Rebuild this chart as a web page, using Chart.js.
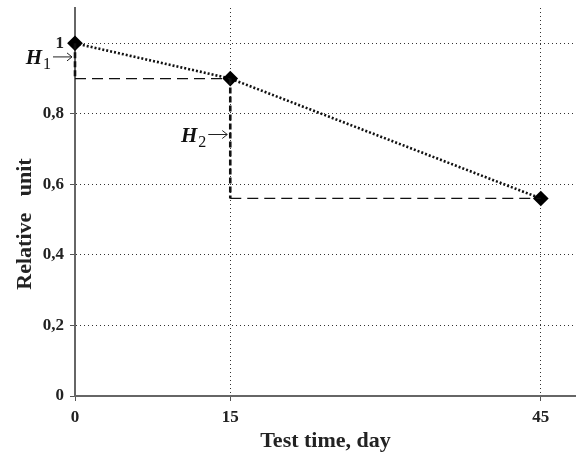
<!DOCTYPE html>
<html>
<head>
<meta charset="utf-8">
<script src="https://cdn.jsdelivr.net/npm/chart.js@4"></script>
<style>
  html, body { margin: 0; padding: 0; background: #fff; overflow: hidden; }
  canvas { display: block; }
</style>
</head>
<body>
<canvas id="graph1" width="576" height="459"></canvas>
<script>
// test time (days) and relative unit values
const days = [0, 15, 45];
const relative = [1, 0.9, 0.56];
const xTicks = [0, 15, 45];
const yTicks = [0, 0.2, 0.4, 0.6, 0.8, 1];
const stepLabels = ["1", "2"];

const serif = "'Liberation Serif', 'Times New Roman', serif";

const mainPoints = days.map((d, i) => ({ x: d, y: relative[i] }));

// guides: drop from each point, then run across to the next x
const hGuides = [];
const vGuides = [];
for (let i = 0; i < days.length - 1; i++) {
  hGuides.push([{ x: days[i], y: relative[i + 1] }, { x: days[i + 1], y: relative[i + 1] }]);
  vGuides.push([{ x: days[i], y: relative[i] }, { x: days[i], y: relative[i + 1] }]);
}

const datasets = [];
hGuides.forEach(seg => datasets.push({
  data: seg, showLine: true, borderColor: "#111", borderWidth: 1.3,
  borderDash: [11, 6], pointRadius: 0, clip: false
}));
vGuides.forEach(seg => datasets.push({
  data: seg, showLine: true, borderColor: "#111", borderWidth: 2.6,
  borderDash: [6, 3], pointRadius: 0, clip: false
}));
datasets.push({
  data: mainPoints, showLine: true, borderColor: "#111", borderWidth: 2.6,
  borderDash: [2, 2], pointStyle: "rectRot", pointRadius: 6,
  pointBackgroundColor: "#000", pointBorderColor: "#000", clip: false
});

const stepLabelPlugin = {
  id: "stepLabels",
  afterDatasetsDraw(chart) {
    const ctx = chart.ctx;
    const xs = chart.scales.x, ys = chart.scales.y;
    ctx.save();
    ctx.fillStyle = "#111";
    ctx.strokeStyle = "#222";
    ctx.textBaseline = "middle";
    vGuides.forEach((seg, i) => {
      const px = xs.getPixelForValue(seg[0].x);
      const py = ys.getPixelForValue((seg[0].y + seg[1].y) / 2) - 4;
      // arrow
      const tip = px - 3, tail = tip - 19;
      ctx.lineWidth = 1;
      ctx.beginPath();
      ctx.moveTo(tail, py); ctx.lineTo(tip, py);
      ctx.moveTo(tip - 5, py - 4); ctx.lineTo(tip, py); ctx.lineTo(tip - 5, py + 4);
      ctx.stroke();
      // H with subscript
      ctx.font = "16px " + serif;
      const sw = ctx.measureText(stepLabels[i]).width;
      const sx = tail - 2 - sw;
      ctx.fillText(stepLabels[i], sx, py + 8);
      ctx.font = "italic bold 21px " + serif;
      const hw = ctx.measureText("H").width;
      ctx.fillText("H", sx - hw - 1, py + 2);
    });
    ctx.restore();
  }
};

new Chart("graph1", {
  type: "scatter",
  data: { datasets },
  options: {
    responsive: false,
    animation: false,
    layout: { autoPadding: false, padding: { top: 8, right: 0, left: 0, bottom: 0 } },
    plugins: { legend: { display: false }, tooltip: { enabled: false } },
    scales: {
      x: {
        type: "linear", min: 0, max: 48.4,
        afterBuildTicks: s => { s.ticks = xTicks.map(v => ({ value: v })); },
        afterFit: s => { s.height = 63; s.paddingLeft = 0; s.paddingRight = 0; },
        grid: { color: "#333", lineWidth: 1, tickLength: 5, tickColor: "#555" },
        border: { color: "#666", width: 2, dash: [1, 3] },
        ticks: { color: "#222", padding: 6, font: { family: serif, size: 17, weight: "bold" } },
        title: { display: true, text: "Test time, day", color: "#222", padding: { top: 2 },
                 font: { family: serif, size: 22, weight: "bold" } }
      },
      y: {
        min: 0, max: 1.1,
        afterBuildTicks: s => { s.ticks = yTicks.map(v => ({ value: v })); },
        afterFit: s => { s.width = 75; s.paddingTop = 0; s.paddingBottom = 0; },
        grid: { color: "#333", lineWidth: 1, tickLength: 5, tickColor: "#555" },
        border: { color: "#666", width: 2, dash: [1, 3] },
        ticks: { color: "#222", padding: 6, font: { family: serif, size: 17, weight: "bold" },
                 callback: v => String(v).replace(".", ",") },
        title: { display: true, text: "Relative   unit        ", color: "#222", padding: { top: 12, bottom: 2 },
                 font: { family: serif, size: 22, weight: "bold" } }
      }
    }
  },
  plugins: [stepLabelPlugin]
});
</script>
</body>
</html>
